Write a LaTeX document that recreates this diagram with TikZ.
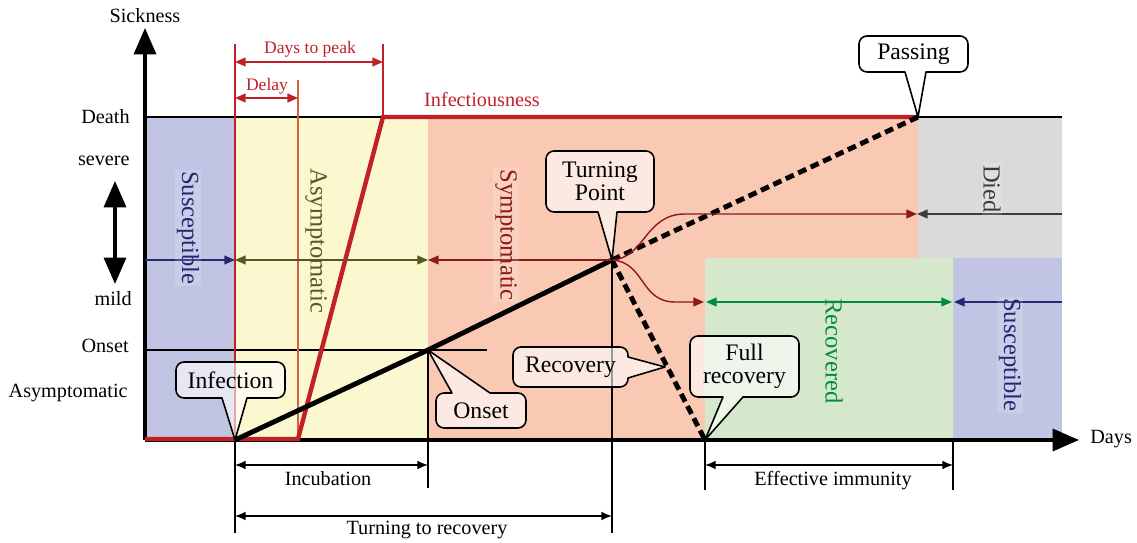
\documentclass[tikz,border=0pt]{standalone}
\usepackage{fontspec}
\setmainfont{Liberation Serif}
\usetikzlibrary{arrows.meta}
\definecolor{cblue}{RGB}{193,197,227}
\definecolor{cyellow}{RGB}{251,247,207}
\definecolor{csalmon}{RGB}{249,201,180}
\definecolor{cgreen}{RGB}{214,232,204}
\definecolor{cgray}{RGB}{219,217,218}
\definecolor{cred}{RGB}{193,32,39}
\definecolor{corange}{RGB}{215,95,60}
\definecolor{cnavy}{RGB}{35,40,115}
\definecolor{colive}{RGB}{85,88,35}
\definecolor{cdred}{RGB}{140,26,26}
\definecolor{cgrn}{RGB}{0,140,62}
\definecolor{cdgray}{RGB}{60,60,60}
\begin{document}
\begin{tikzpicture}[x=0.02cm,y=-0.02cm,
  axlabel/.style={font=\fontsize{11.5}{13}\selectfont, inner sep=0pt},
  redlabel/.style={text=cred, font=\fontsize{10}{12}\selectfont, inner sep=0pt},
  rotlabel/.style={rotate=-90, font=\fontsize{14}{16}\selectfont, fill=white, fill opacity=0.15, text opacity=1, inner sep=1pt},
  cpath/.style={draw=black, line width=0.9pt, fill=white, fill opacity=0.6, draw opacity=1, line join=round},
  ctext/.style={font=\fontsize{13.5}{13}\selectfont, align=center, inner sep=0pt},
  ctip/.style={-{Triangle[length=6pt,width=5pt]}},
  cboth/.style={{Triangle[length=6pt,width=5pt]}-{Triangle[length=6pt,width=5pt]}},
  dimarrow/.style={line width=0.9pt, {Latex[length=6pt,width=5pt]}-{Latex[length=6pt,width=5pt]}},
  thinline/.style={line width=0.8pt},
  bigtip/.style={line width=2pt, -{Triangle[length=15pt,width=12.5pt]}},
  bigboth/.style={line width=2pt, {Triangle[length=15pt,width=12.5pt]}-{Triangle[length=15pt,width=12.5pt]}},
  thickline/.style={line width=2.8pt},
  dashline/.style={line width=2.8pt, dash pattern=on 5pt off 2.8pt},
  redline/.style={line width=2.5pt, color=cred, line join=miter}
]
\useasboundingbox (0,0) rectangle (1137,543);
% regions
\fill[cblue] (145,117) rectangle (235,440);
\fill[cyellow] (235,117) rectangle (428,440);
\fill[csalmon] (428,117) rectangle (705,440);
\fill[csalmon] (705,117) rectangle (918,258);
\fill[cgray] (918,117) rectangle (1062,258);
\fill[cgreen] (705,258) rectangle (953,440);
\fill[cblue] (953,258) rectangle (1062,440);

% key coordinates
\coordinate (O) at (145,440);
\coordinate (Ytop) at (145,28);
\coordinate (Xend) at (1079,440);
\coordinate (D0) at (145,117);
\coordinate (D1) at (1062,117);
\coordinate (inf) at (235,440);
\coordinate (del) at (298,440);
\coordinate (peak) at (383,117);
\coordinate (onset) at (428,350);
\coordinate (tp) at (612,260);
\coordinate (full) at (705,440);
\coordinate (pass) at (918,117);
\coordinate (rec) at (665,367);
\coordinate (imm) at (953,440);

% death line, onset line
\draw[thinline] (D0) -- (D1);
\coordinate (On0) at (145,350);
\coordinate (On1) at (487,350);
\draw[thinline] (On0) -- (On1);

% red verticals
\coordinate (infTop) at (235,44);
\coordinate (delTop) at (298,80);
\coordinate (peakTop) at (383,44);
\draw[thinline, cred] (infTop) -- (inf);
\draw[thinline, corange] (delTop) -- (del);
\draw[thinline, cred] (peakTop) -- (peak);

% days to peak / delay arrows
\coordinate (dp0) at (235,62);
\coordinate (dp1) at (383,62);
\coordinate (dl0) at (235,98);
\coordinate (dl1) at (298,98);
\draw[thinline, cred, cboth] (dp0) -- (dp1);
\draw[thinline, cred, cboth] (dl0) -- (dl1);
\node[redlabel] (ldp) at (310,49) {Days to peak};
\node[redlabel] (ldl) at (267,86) {Delay};
\node[redlabel, font=\fontsize{11.5}{13}\selectfont] (linf) at (482,99) {Infectiousness};

% black verticals below
\coordinate (infB) at (235,533);
\coordinate (onB) at (428,488);
\coordinate (tpB) at (612,533);
\coordinate (fullB) at (705,490);
\coordinate (immB) at (953,490);
\draw[thinline] (inf) -- (infB);
\draw[thinline] (onset) -- (onB);
\draw[thinline] (tp) -- (tpB);
\draw[thinline] (full) -- (fullB);
\draw[thinline] (imm) -- (immB);

% axes
\draw[bigtip] (O) -- (Ytop);
\draw[bigtip] (O) -- (Xend);
\node[axlabel] (lsick) at (145,16) {Sickness};
\node[axlabel, anchor=west] (ldays) at (1090,439) {Days};

% left labels
\node[axlabel, anchor=east] (ldeath) at (130,117) {Death};
\node[axlabel, anchor=east] (lsev) at (130,161) {severe};
\node[axlabel, anchor=east] (lmild) at (132,299) {mild};
\node[axlabel, anchor=east] (lonset) at (129,346) {Onset};
\node[axlabel, anchor=east] (lasym) at (128,393) {Asymptomatic};
\coordinate (sv0) at (115,181);
\coordinate (sv1) at (115,284);
\draw[bigboth] (sv0) -- (sv1);

% infectiousness curve
\coordinate (r0) at (145,439);
\coordinate (r1) at (298,439);
\coordinate (r2) at (383,117);
\draw[redline] (r0) -- (r1) -- (r2) -- (pass);

% sickness curve
\draw[thickline] (inf) -- (onset) -- (tp);
\draw[dashline] (tp) -- (pass);
\draw[dashline] (tp) -- (full);

% state arrows
\coordinate (a0) at (145,260);
\coordinate (a1) at (235,260);
\coordinate (a2) at (428,260);
\draw[thinline, cnavy, ctip] (a0) -- (a1);
\draw[thinline, colive, cboth] (a1) -- (a2);
\draw[thinline, cdred, ctip] (tp) -- (a2);
\coordinate (b0) at (917,214);
\coordinate (b1) at (1062,214);
\draw[thinline, cdred, ctip] (tp) .. controls (645,258) and (645,214) .. (685,214) -- (b0);
\draw[thinline, cdgray, ctip] (b1) -- (b0);
\coordinate (c0) at (704,302);
\coordinate (c1) at (706,302);
\coordinate (c2) at (952,302);
\coordinate (c3) at (954,302);
\coordinate (c4) at (1062,302);
\draw[thinline, cdred, ctip] (tp) .. controls (645,262) and (640,302) .. (675,302) -- (c0);
\draw[thinline, cgrn, cboth] (c1) -- (c2);
\draw[thinline, cnavy, ctip] (c4) -- (c3);

% rotated labels
\node[rotlabel, text=cnavy] (lsus1) at (188,228) {Susceptible};
\node[rotlabel, text=colive, fill opacity=0] (lasy) at (316,241) {Asymptomatic};
\node[rotlabel, text=cdred] (lsym) at (506,235) {Symptomatic};
\node[rotlabel, text=cdgray] (ldied) at (992,189) {Died};
\node[rotlabel, text=cgrn, fill opacity=0] (lrec) at (834,351) {Recovered};
\node[rotlabel, text=cnavy] (lsus2) at (1010,355) {Susceptible};

% dimension arrows
\coordinate (i0) at (235,465);
\coordinate (i1) at (428,465);
\coordinate (t0) at (235,516);
\coordinate (t1) at (612,516);
\coordinate (e0) at (705,465);
\coordinate (e1) at (953,465);
\draw[dimarrow] (i0) -- (i1);
\draw[dimarrow] (t0) -- (t1);
\draw[dimarrow] (e0) -- (e1);
\node[axlabel] (linc) at (328,479) {Incubation};
\node[axlabel] (lturn) at (427,530) {Turning to recovery};
\node[axlabel] (leff) at (833,481) {Effective immunity};

% callouts (rounded boxes with sharp pointers)
\path[cpath] (184,362) -- (277,362) arc[start angle=-90,end angle=0,radius=8] -- (285,390)
  arc[start angle=0,end angle=90,radius=8] -- (247,398) -- (inf) -- (222,398) -- (184,398)
  arc[start angle=90,end angle=180,radius=8] -- (176,370) arc[start angle=180,end angle=270,radius=8] -- cycle;
\node[ctext] (cinf) at (230.5,380) {Infection};

\path[cpath] (444,393) -- (452,393) -- (onset) -- (490,393) -- (518,393)
  arc[start angle=-90,end angle=0,radius=8] -- (526,420) arc[start angle=0,end angle=90,radius=8] -- (444,428)
  arc[start angle=90,end angle=180,radius=8] -- (436,401) arc[start angle=180,end angle=270,radius=8] -- cycle;
\node[ctext] (cons) at (481,411) {Onset};

\path[cpath] (554,151) -- (646,151) arc[start angle=-90,end angle=0,radius=8] -- (654,204)
  arc[start angle=0,end angle=90,radius=8] -- (617,212) -- (tp) -- (598,212) -- (554,212)
  arc[start angle=90,end angle=180,radius=8] -- (546,159) arc[start angle=180,end angle=270,radius=8] -- cycle;
\node[ctext] (ctp) at (600,181.5) {Turning\\Point};

\path[cpath] (521,347) -- (620,347) arc[start angle=-90,end angle=0,radius=8] -- (628,357) -- (rec)
  -- (628,378) -- (628,379) arc[start angle=0,end angle=90,radius=8] -- (521,387)
  arc[start angle=90,end angle=180,radius=8] -- (513,355) arc[start angle=180,end angle=270,radius=8] -- cycle;
\node[ctext] (crec) at (570.5,367) {Recovery};

\path[cpath] (698,336) -- (791,336) arc[start angle=-90,end angle=0,radius=8] -- (799,389)
  arc[start angle=0,end angle=90,radius=8] -- (743,397) -- (full) -- (723,397) -- (698,397)
  arc[start angle=90,end angle=180,radius=8] -- (690,344) arc[start angle=180,end angle=270,radius=8] -- cycle;
\node[ctext] (cfull) at (744.5,366.5) {Full\\recovery};

\path[cpath] (867,36) -- (960,36) arc[start angle=-90,end angle=0,radius=8] -- (968,64)
  arc[start angle=0,end angle=90,radius=8] -- (926,72) -- (pass) -- (905,72) -- (867,72)
  arc[start angle=90,end angle=180,radius=8] -- (859,44) arc[start angle=180,end angle=270,radius=8] -- cycle;
\node[ctext] (cpass) at (913.5,54) {Passing};
\end{tikzpicture}
\end{document}
